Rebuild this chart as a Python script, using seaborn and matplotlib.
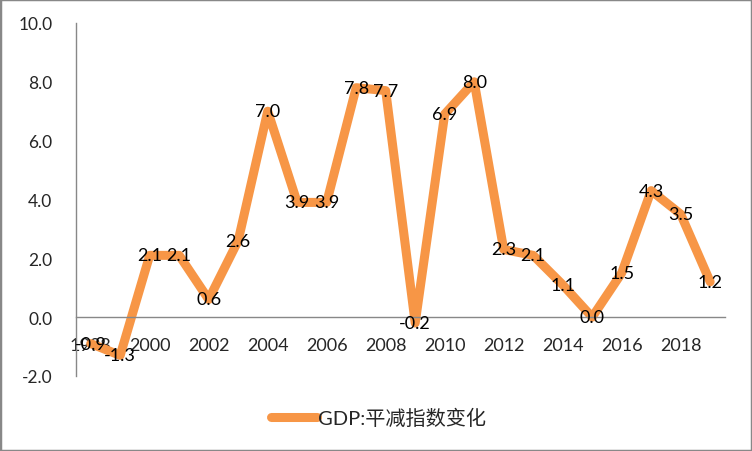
import matplotlib
matplotlib.use("Agg")
import matplotlib.pyplot as plt
import seaborn as sns
import pandas as pd

# data
years = [1998, 1999, 2000, 2001, 2002, 2003, 2004, 2005, 2006, 2007, 2008,
         2009, 2010, 2011, 2012, 2013, 2014, 2015, 2016, 2017, 2018, 2019]
deflator = [-0.9, -1.3, 2.1, 2.1, 0.6, 2.6, 7.0, 3.9, 3.9, 7.8, 7.7,
            -0.2, 6.9, 8.0, 2.3, 2.1, 1.1, 0.0, 1.5, 4.3, 3.5, 1.2]
tick_years = [1998, 2000, 2002, 2004, 2006, 2008, 2010, 2012, 2014, 2016, 2018]
series_name = "GDP:平减指数变化"

df = pd.DataFrame({"year": years, "value": deflator})

sns.set_style("white")
plt.rcParams['font.family'] = ['Lato', 'Noto Sans CJK SC', 'DejaVu Sans']

fig = plt.figure(figsize=(7.52, 4.52), dpi=100)
ax = fig.add_axes([0.101, 0.166, 0.863, 0.781])

sns.lineplot(data=df, x="year", y="value", color="#F79646", linewidth=6.5,
             solid_joinstyle="round", solid_capstyle="round",
             label=series_name, ax=ax, legend=False)

# data labels centred on the points
for x, y in zip(years, deflator):
    ax.text(x, y, f"{y:.1f}", ha="center", va="center", fontsize=13, color="black")

ax.set_xlim(1997.5, 2019.5)
ax.set_ylim(-2, 10)
ax.set_yticks([-2, 0, 2, 4, 6, 8, 10])
ax.set_yticklabels([f"{v:.1f}" for v in [-2, 0, 2, 4, 6, 8, 10]])
ax.set_xticks(tick_years)
ax.set_xticklabels([str(y) for y in tick_years])
ax.set_xlabel("")
ax.set_ylabel("")

ax.spines['top'].set_visible(False)
ax.spines['right'].set_visible(False)
ax.spines['bottom'].set_position(('data', 0))
ax.spines['left'].set_color('#888888')
ax.spines['bottom'].set_color('#888888')
ax.spines['left'].set_linewidth(1)
ax.spines['bottom'].set_linewidth(1)
ax.tick_params(axis='y', length=0, pad=17, labelsize=12.5)
ax.tick_params(axis='x', length=0, pad=14, labelsize=13)

handles, labels = ax.get_legend_handles_labels()
fig.legend(handles, labels, loc="center", bbox_to_anchor=(0.503, 0.075),
           frameon=False, fontsize=14.5, handlelength=2.3, handletextpad=0.05)

fig.add_artist(plt.Rectangle((0, 0), 1, 1, transform=fig.transFigure,
                             fill=False, edgecolor="#888888", linewidth=2.5))

fig.savefig("out.png", dpi=100)
